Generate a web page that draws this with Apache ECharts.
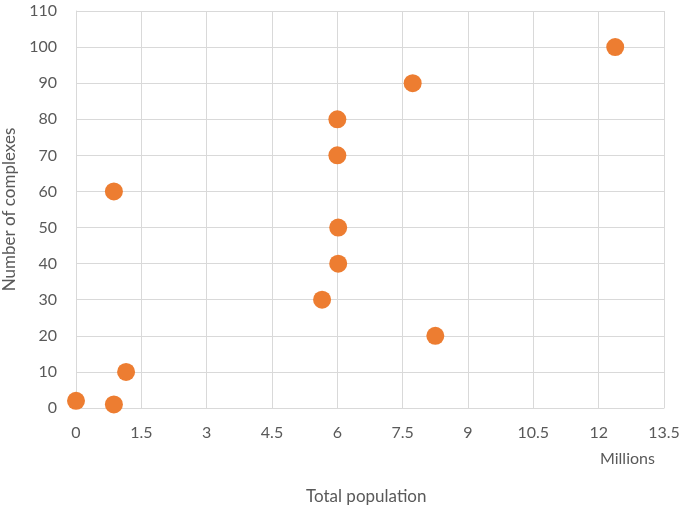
<!DOCTYPE html>
<html>
<head>
<meta charset="utf-8">
<script src="https://cdn.jsdelivr.net/npm/echarts@6/dist/echarts.min.js"></script>
<style>html,body{margin:0;padding:0;background:#fff}#c{width:685px;height:512px}</style>
</head>
<body>
<div id="c"></div>
<script>
// Data (x in millions, y = number of complexes)
var population = [0, 0.87, 1.15, 0.87, 5.65, 6.02, 6.02, 6.0, 6.0, 8.25, 7.73, 12.38];
var complexes  = [2, 1, 10, 60, 30, 40, 50, 70, 80, 20, 90, 100];
var xTitle = "Total population";
var xUnit = "Millions";
var yTitle = "Number of complexes";

var points = population.map(function (p, i) { return [p, complexes[i]]; });
var font = "Lato, 'Open Sans', sans-serif";
var chart = echarts.init(document.getElementById('c'));
chart.setOption({
  animation: false,
  backgroundColor: '#ffffff',
  grid: { left: 76, right: 21, top: 11, bottom: 104, containLabel: false, outerBoundsMode: 'none' },
  xAxis: {
    type: 'value', min: 0, max: 13.5, interval: 1.5,
    axisLine: { show: true, lineStyle: { color: '#d9d9d9', width: 1 } },
    axisTick: { show: false },
    splitLine: { show: true, lineStyle: { color: '#d9d9d9', width: 1 } },
    axisLabel: { color: '#595959', fontSize: 16, fontFamily: font, margin: 17 }
  },
  yAxis: {
    type: 'value', min: 0, max: 110, interval: 10,
    axisLine: { show: true, lineStyle: { color: '#d9d9d9', width: 1 } },
    axisTick: { show: false },
    splitLine: { show: true, lineStyle: { color: '#d9d9d9', width: 1 } },
    axisLabel: { color: '#595959', fontSize: 16, fontFamily: font, margin: 19 },
    name: yTitle, nameLocation: 'middle', nameGap: 55, nameRotate: 90,
    nameTextStyle: { color: '#595959', fontSize: 17, fontFamily: font }
  },
  graphic: [
    { type: 'text', left: 600, top: 451, style: { text: xUnit, fill: '#595959', font: '16px ' + font } },
    { type: 'text', left: 306, top: 488, style: { text: xTitle, fill: '#595959', font: '17px ' + font } }
  ],
  series: [{
    type: 'scatter', data: points, symbolSize: 18,
    itemStyle: { color: '#ED7D31', opacity: 1 }
  }]
});
</script>
</body>
</html>
